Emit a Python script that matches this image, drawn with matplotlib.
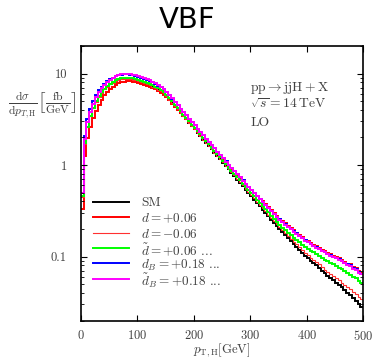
import numpy as np
import matplotlib
matplotlib.use('Agg')
import matplotlib.pyplot as plt

plt.rcParams['font.family'] = 'cmr10'
plt.rcParams['mathtext.fontset'] = 'cm'
plt.rcParams['axes.formatter.use_mathtext'] = True

# 5 GeV bins from 0 to 500 GeV
edges = np.arange(0, 505, 5)

sm = [0.45, 1.70, 2.60, 3.40, 4.15, 4.90, 5.55, 6.15, 6.70, 7.20,
      7.60, 7.95, 8.25, 8.50, 8.65, 8.75, 8.75, 8.70, 8.60, 8.45,
      8.30, 8.12, 7.92, 7.70, 7.46, 7.20, 6.94, 6.66, 6.38, 6.05,
      5.65, 5.20, 4.80, 4.40, 4.05, 3.72, 3.42, 3.15, 2.90, 2.66,
      2.45, 2.25, 2.07, 1.90, 1.75, 1.61, 1.48, 1.36, 1.25, 1.15,
      1.06, 0.975, 0.895, 0.825, 0.760, 0.695, 0.640, 0.590, 0.540, 0.497,
      0.457, 0.420, 0.386, 0.355, 0.326, 0.300, 0.276, 0.254, 0.234, 0.215,
      0.198, 0.184, 0.171, 0.159, 0.148, 0.137, 0.128, 0.119, 0.110, 0.102,
      0.096, 0.090, 0.085, 0.080, 0.075, 0.070, 0.066, 0.062, 0.058, 0.055,
      0.052, 0.049, 0.046, 0.043, 0.040, 0.038, 0.035, 0.033, 0.030, 0.028]

d_plus = [0.33, 1.26, 1.98, 2.62, 3.28, 3.92, 4.55, 5.17, 5.76, 6.26,
          6.76, 7.16, 7.51, 7.82, 8.00, 8.14, 8.18, 8.18, 8.08, 7.99,
          7.89, 7.71, 7.56, 7.35, 7.16, 6.91, 6.70, 6.43, 6.19, 5.87,
          5.51, 5.10, 4.70, 4.33, 4.01, 3.68, 3.42, 3.15, 2.93, 2.69,
          2.50, 2.30, 2.13, 1.96, 1.82, 1.69, 1.55, 1.44, 1.34, 1.24,
          1.16, 1.07, 0.985, 0.916, 0.851, 0.785, 0.730, 0.679, 0.626, 0.581,
          0.539, 0.500, 0.463, 0.430, 0.401, 0.372, 0.345, 0.323, 0.300, 0.280,
          0.259, 0.245, 0.231, 0.218, 0.206, 0.193, 0.183, 0.174, 0.163, 0.153,
          0.147, 0.140, 0.135, 0.130, 0.125, 0.119, 0.115, 0.110, 0.106, 0.102,
          0.099, 0.096, 0.092, 0.088, 0.084, 0.082, 0.077, 0.075, 0.070, 0.067]

d_minus = [0.45, 1.71, 2.60, 3.41, 4.15, 4.91, 5.55, 6.16, 6.70, 7.21,
           7.61, 7.95, 8.26, 8.50, 8.66, 8.76, 8.75, 8.71, 8.60, 8.46,
           8.31, 8.12, 7.93, 7.70, 7.47, 7.20, 6.95, 6.66, 6.39, 6.05,
           5.66, 5.20, 4.81, 4.40, 4.06, 3.72, 3.43, 3.15, 2.91, 2.66,
           2.46, 2.25, 2.08, 1.90, 1.76, 1.61, 1.49, 1.36, 1.26, 1.16,
           1.07, 0.985, 0.905, 0.835, 0.770, 0.705, 0.650, 0.600, 0.550, 0.507,
           0.471, 0.433, 0.399, 0.367, 0.338, 0.312, 0.288, 0.265, 0.245, 0.226,
           0.208, 0.193, 0.180, 0.168, 0.156, 0.145, 0.136, 0.127, 0.117, 0.109,
           0.103, 0.097, 0.092, 0.087, 0.082, 0.077, 0.072, 0.068, 0.064, 0.061,
           0.058, 0.055, 0.052, 0.049, 0.046, 0.044, 0.041, 0.039, 0.036, 0.034]

dt_plus = [0.46, 1.72, 2.63, 3.44, 4.20, 4.96, 5.62, 6.23, 6.79, 7.30,
           7.75, 8.11, 8.42, 8.70, 8.86, 8.97, 8.98, 8.93, 8.83, 8.68,
           8.53, 8.35, 8.15, 7.93, 7.69, 7.42, 7.16, 6.87, 6.59, 6.25,
           5.84, 5.38, 4.97, 4.56, 4.20, 3.86, 3.55, 3.27, 3.02, 2.77,
           2.55, 2.34, 2.16, 1.98, 1.83, 1.68, 1.55, 1.42, 1.31, 1.21,
           1.11, 1.02, 0.940, 0.868, 0.801, 0.735, 0.679, 0.627, 0.576, 0.532,
           0.491, 0.454, 0.418, 0.386, 0.356, 0.329, 0.304, 0.281, 0.260, 0.240,
           0.222, 0.207, 0.194, 0.182, 0.171, 0.160, 0.152, 0.143, 0.134, 0.126,
           0.121, 0.115, 0.111, 0.106, 0.101, 0.096, 0.092, 0.089, 0.085, 0.082,
           0.079, 0.076, 0.073, 0.069, 0.066, 0.063, 0.060, 0.058, 0.054, 0.051]

dB_plus = [0.50, 2.07, 3.17, 4.11, 4.98, 5.83, 6.55, 7.20, 7.77, 8.28,
           8.67, 9.02, 9.32, 9.56, 9.69, 9.78, 9.77, 9.71, 9.59, 9.42,
           9.24, 9.03, 8.80, 8.55, 8.28, 7.99, 7.70, 7.39, 7.08, 6.72,
           6.27, 5.77, 5.33, 4.88, 4.50, 4.13, 3.80, 3.50, 3.22, 2.95,
           2.72, 2.50, 2.30, 2.11, 1.95, 1.79, 1.65, 1.52, 1.40, 1.29,
           1.19, 1.10, 1.01, 0.936, 0.866, 0.796, 0.736, 0.682, 0.627, 0.580,
           0.537, 0.497, 0.460, 0.427, 0.395, 0.367, 0.341, 0.317, 0.295, 0.274,
           0.255, 0.240, 0.226, 0.213, 0.201, 0.189, 0.179, 0.170, 0.160, 0.150,
           0.144, 0.137, 0.132, 0.126, 0.121, 0.116, 0.112, 0.108, 0.103, 0.100,
           0.097, 0.093, 0.090, 0.086, 0.082, 0.080, 0.075, 0.073, 0.068, 0.065]

dtB_plus = [0.49, 1.92, 2.94, 3.84, 4.69, 5.54, 6.27, 6.95, 7.57, 8.14,
            8.59, 8.98, 9.32, 9.61, 9.77, 9.89, 9.89, 9.83, 9.72, 9.55,
            9.38, 9.17, 8.95, 8.70, 8.43, 8.14, 7.83, 7.50, 7.17, 6.79,
            6.33, 5.82, 5.37, 4.91, 4.52, 4.14, 3.81, 3.50, 3.22, 2.95,
            2.72, 2.50, 2.30, 2.11, 1.95, 1.79, 1.65, 1.52, 1.40, 1.29,
            1.19, 1.09, 1.01, 0.930, 0.862, 0.793, 0.733, 0.678, 0.624, 0.578,
            0.534, 0.495, 0.458, 0.424, 0.393, 0.365, 0.339, 0.315, 0.293, 0.272,
            0.253, 0.238, 0.224, 0.211, 0.199, 0.188, 0.178, 0.168, 0.158, 0.149,
            0.143, 0.136, 0.130, 0.125, 0.120, 0.115, 0.111, 0.106, 0.102, 0.099,
            0.096, 0.092, 0.089, 0.085, 0.081, 0.078, 0.074, 0.072, 0.067, 0.064]

labels = ['SM', r'$d=+0.06$', r'$d=-0.06$', r'$\tilde{d}=+0.06$ ...',
          r'$d_B=+0.18$ ...', r'$\tilde{d}_B=+0.18$ ...']
series = [sm, d_plus, d_minus, dt_plus, dB_plus, dtB_plus]
colors = ['black', '#ff0000', '#ff3030', '#00ff00', '#0000ff', '#ff00ff']
widths = [1.4, 1.4, 0.8, 1.4, 1.4, 1.4]

txt = '0.25'

fig = plt.figure(figsize=(3.74, 3.59), dpi=100)
ax = fig.add_axes([0.216, 0.107, 0.755, 0.765])

for vals, c, lw in zip(series, colors, widths):
    ax.stairs(vals, edges, color=c, lw=lw, baseline=None)

ax.set_yscale('log')
ax.set_xlim(0, 500)
ax.set_ylim(0.02, 20)
ax.set_xticks([0, 100, 200, 300, 400, 500])
ax.set_yticks([0.1, 1, 10])
ax.set_yticklabels(['0.1', '1', '10'])
ax.tick_params(which='both', direction='in', top=True, right=True,
               labelsize=9, labelcolor=txt)
ax.tick_params(which='major', length=4, width=0.8)
ax.tick_params(which='minor', length=2.5, width=0.6)
ax.tick_params(axis='y', which='major', pad=10)
ax.tick_params(axis='x', which='major', pad=6)
for s in ax.spines.values():
    s.set_linewidth(1.2)

ax.set_xlabel(r'$p_{\mathrm{T,H}}[\mathrm{GeV}]$', fontsize=9.2, color=txt, labelpad=-1)
fig.text(0.112, 0.708,
         r'$\frac{\mathrm{d}\sigma}{\mathrm{d}p_{T,\mathrm{H}}}\left[\frac{\mathrm{fb}}{\mathrm{GeV}}\right]$',
         ha='center', va='center', fontsize=12, color=txt)

ax.text(0.6, 0.847, r'$\mathrm{pp}\rightarrow\mathrm{jjH}+\mathrm{X}$',
        transform=ax.transAxes, fontsize=9.8, color=txt, va='center')
ax.text(0.6, 0.789, r'$\sqrt{s}=14\,\mathrm{TeV}$',
        transform=ax.transAxes, fontsize=9.8, color=txt, va='center')
ax.text(0.6, 0.72, 'LO', transform=ax.transAxes, fontsize=9.8, color=txt, va='center')

# legend rows with even spacing (as in the LaTeX original)
row_y = 0.432
for c, lw, lab in zip(colors, widths, labels):
    ax.plot([0.044, 0.171], [row_y, row_y], color=c, lw=lw,
            transform=ax.transAxes)
    ax.text(0.213, row_y, lab, transform=ax.transAxes, fontsize=9.5,
            color=txt, va='center_baseline', ha='left')
    row_y -= 0.056

fig.text(0.5, 0.945, 'VBF', ha='center', va='center', fontsize=21,
         family='DejaVu Sans')

fig.savefig('out.png', dpi=100)
